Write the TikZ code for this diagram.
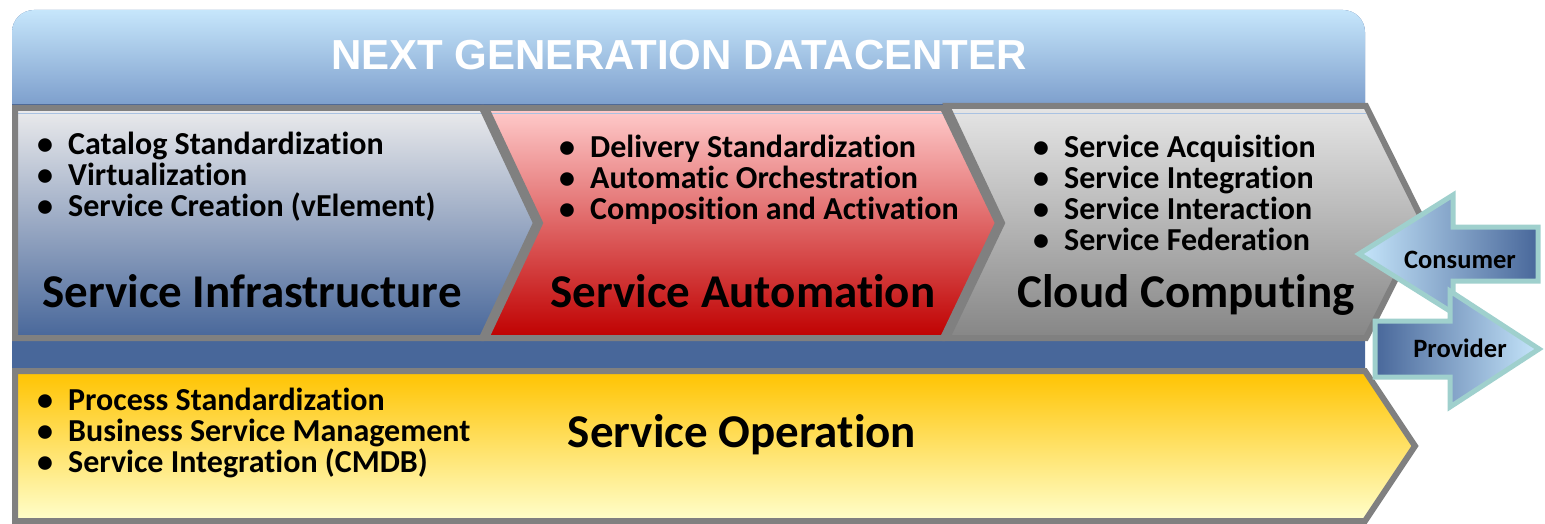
\documentclass[tikz,border=0pt]{standalone}
\usepackage{fontspec}
\setmainfont{Carlito}[RawFeature={-liga;-clig;-calt}]
\newfontfamily\titlefont{Liberation Sans}
\usetikzlibrary{positioning}
\definecolor{frameblue}{HTML}{48679A}
\definecolor{skyblue}{HTML}{C6E6FB}
\definecolor{midblue}{HTML}{6A8CC0}
\definecolor{rimgray}{HTML}{808080}
\definecolor{arrowrim}{HTML}{9FD0CD}
\definecolor{hairblue}{HTML}{A9C2E2}
\newcommand{\blt}[1]{\makebox[31pt][l]{\textbullet}#1}
\tikzstyle{stagerim}=[draw=rimgray, line width=6pt, line join=miter]
\tikzstyle{bullets}=[anchor=west, inner sep=0pt, align=left, font=\bfseries\fontsize{32}{31}\selectfont]
\tikzstyle{stagename}=[anchor=base, inner sep=0pt, font=\bfseries\fontsize{47}{50}\selectfont]
\tikzstyle{flow}=[draw=arrowrim, line width=5pt, line join=miter]
\tikzstyle{flowname}=[anchor=base, inner sep=0pt, font=\bfseries\fontsize{26.5}{28}\selectfont]

\begin{document}
\begin{tikzpicture}[x=1pt, y=-1pt]
\useasboundingbox (0,0) rectangle (1545,524);
% Frame
    \fill[frameblue, rounded corners=22pt] (12,10) rectangle (1365,514);
    \shade[top color=skyblue, bottom color=midblue, rounded corners=22pt] (12,10) -- (1365,10) -- (1365,130) -- (12,130) -- cycle;
    \fill[frameblue] (12,104) rectangle (1365,130);
    \node[text=white, font=\titlefont\bfseries\fontsize{42}{45}\selectfont] (title) at (679,55) {NEXT GENERATION DATACENTER};
% Stages
    \shade[top color=blue!4!gray!15, bottom color=frameblue] (15,108) -- (482,108) -- (536,223) -- (482,338) -- (15,338) -- cycle;
    \shade[top color=red!20, bottom color=red!75!black] (486,108) -- (943,108) -- (998,223) -- (943,338) -- (486,338) -- (540,223) -- cycle;
    \shade[top color=gray!20, bottom color=gray!95] (947,106) -- (1366,106) -- (1424,223) -- (1366,338) -- (947,338) -- (1002,223) -- cycle;
    \draw[hairblue, line width=1pt] (18,114) -- (1366,114);
    \draw[stagerim] (15,108) -- (482,108) -- (536,223) -- (482,338) -- (15,338) -- cycle;
    \draw[stagerim] (486,108) -- (943,108) -- (998,223) -- (943,338) -- (486,338) -- (540,223) -- cycle;
    \draw[stagerim] (947,106) -- (1366,106) -- (1424,223) -- (1366,338) -- (947,338) -- (1002,223) -- cycle;
    \node[bullets] (infra list) at (37,177) {\blt{Catalog Standardization}\\\blt{Virtualization}\\\blt{Service Creation (vElement)}};
    \node[bullets] (auto list) at (559,180) {\blt{Delivery Standardization}\\\blt{Automatic Orchestration}\\\blt{Composition and Activation}};
    \node[bullets] (cloud list) at (1033,193) {\blt{Service Acquisition}\\\blt{Service Integration}\\\blt{Service Interaction}\\\blt{Service Federation}};
    \node[stagename] (infra) at (252,307) {Service Infrastructure};
    \node[stagename] (auto) at (743,307) {Service Automation};
    \node[stagename] (cloud) at (1186,307) {Cloud Computing};
% Operation
    \shade[top color=orange!30!yellow!90!red, bottom color=yellow!20] (15,371) -- (1365,371) -- (1415,446) -- (1365,521) -- (15,521) -- cycle;
    \draw[stagerim] (15,371) -- (1365,371) -- (1415,446) -- (1365,521) -- (15,521) -- cycle;
    \node[bullets] (ops list) at (37,433) {\blt{Process Standardization}\\\blt{Business Service Management}\\\blt{Service Integration (CMDB)}};
    \node[stagename] (ops) at (742,447) {Service Operation};
% Consumer and provider
    \shade[left color=skyblue, right color=frameblue] (1359,254) -- (1453,195) -- (1453,227) -- (1538,227) -- (1538,281) -- (1453,281) -- (1453,313) -- cycle;
    \draw[flow] (1359,254) -- (1453,195) -- (1453,227) -- (1538,227) -- (1538,281) -- (1453,281) -- (1453,313) -- cycle;
    \node[flowname] (consumer) at (1460,268) {Consumer};
    \shade[left color=frameblue, right color=skyblue] (1375,321) -- (1450,321) -- (1450,291) -- (1539,349) -- (1450,407) -- (1450,377) -- (1375,377) -- cycle;
    \draw[flow] (1375,321) -- (1450,321) -- (1450,291) -- (1539,349) -- (1450,407) -- (1450,377) -- (1375,377) -- cycle;
    \node[flowname] (provider) at (1460,357) {Provider};
\end{tikzpicture}
\end{document}
